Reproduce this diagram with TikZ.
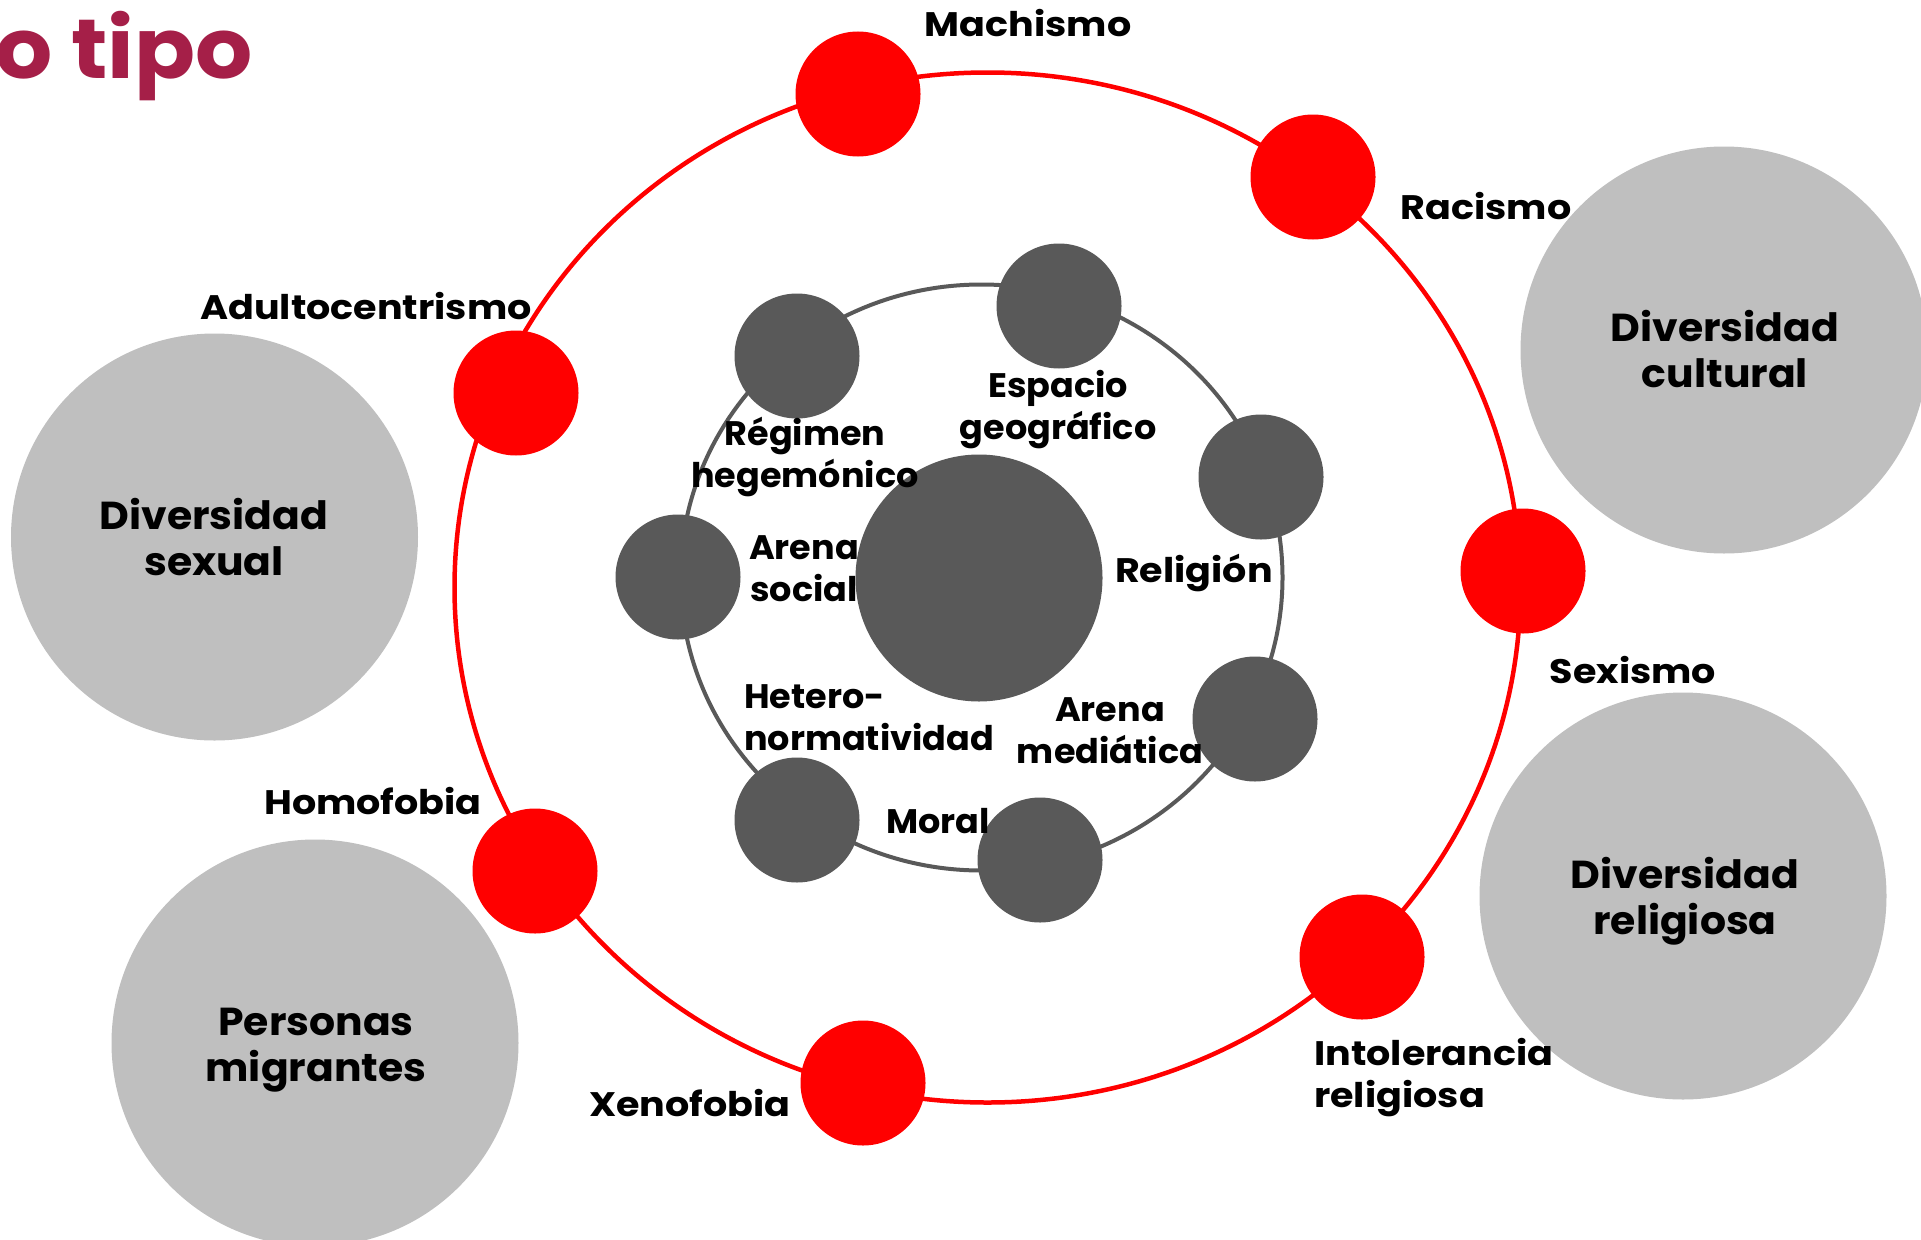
\documentclass[tikz,border=0pt]{standalone}
\usepackage{fontspec}
\setmainfont{Poppins}
\newfontfamily\labfont{Poppins}[FakeStretch=1.12]
\newfontfamily\innfont{Poppins}[FakeStretch=1.03]
\newfontfamily\bigfont{Poppins}[FakeStretch=1.05]
\newfontfamily\titfont{Poppins}[FakeStretch=1.07]
\definecolor{ballred}{HTML}{FF0000}
\definecolor{darkgr}{HTML}{595959}
\definecolor{lightgr}{HTML}{BFBFBF}
\definecolor{titlered}{HTML}{A51F48}
\begin{document}
\begin{tikzpicture}[x=1pt,y=-1pt,
  redball/.style={circle,fill=ballred,draw=none,inner sep=0pt,minimum size=125pt},
  grayball/.style={circle,fill=darkgr,draw=none,inner sep=0pt,minimum size=125pt},
  bigball/.style={circle,fill=lightgr,draw=none,inner sep=0pt,minimum size=407pt},
  lab/.style={font=\labfont\bfseries\fontsize{34}{42}\selectfont,align=center,inner sep=0pt,anchor=base,text=black},
  innlab/.style={lab,font=\innfont\bfseries\fontsize{34}{42}\selectfont},
  biglab/.style={font=\bigfont\bfseries\fontsize{39}{46}\selectfont,align=center,inner sep=0pt,anchor=base,text=black},
  titletext/.style={font=\titfont\bfseries\fontsize{84}{90}\selectfont,text=titlered,inner sep=0pt,anchor=base east},
  redring/.style={draw=ballred,line width=4.5pt},
  grayring/.style={draw=darkgr,line width=4pt}]
\useasboundingbox (0,0) rectangle (1921,1239);
\clip (0,0) rectangle (1921,1239);

% big light grey circles
\node[bigball] (sexual) at (214.5,537) {};
\node[bigball] (cultural) at (1724,350) {};
\node[bigball] (religiosa) at (1683,896) {};
\node[bigball] (migrantes) at (315,1043) {};

% rings
\draw[redring] (987.5,587.5) ellipse [x radius=533pt, y radius=515pt];
\draw[grayring] (981.5,577.5) ellipse [x radius=301pt, y radius=293pt];

% red circles
\node[redball] (machismo) at (858,94) {};
\node[redball] (racismo) at (1313,177) {};
\node[redball] (sexismo) at (1523,571) {};
\node[redball] (intolerancia) at (1362,957) {};
\node[redball] (xenofobia) at (863,1083) {};
\node[redball] (homofobia) at (535,871) {};
\node[redball] (adulto) at (516,393) {};

% dark grey circles
\node[grayball] (regimen) at (797,356) {};
\node[grayball] (espacio) at (1059,306) {};
\node[grayball] (religion) at (1261,477) {};
\node[grayball] (mediatica) at (1255,719) {};
\node[grayball] (moral) at (1040,860) {};
\node[grayball] (hetero) at (797,820) {};
\node[grayball] (social) at (678,577) {};
\node[grayball,minimum size=247pt] (centro) at (979,578) {};

% title
\node[titletext] (title) at (253,78) {o tipo};

% outer labels (anchor base = baseline of last line)
\node[lab] (l-machismo) at (1028,37) {Machismo};
\node[lab] (l-racismo) at (1486,219) {Racismo};
\node[lab] (l-sexismo) at (1633,683) {Sexismo};
\node[lab,align=left,anchor=base west] (l-intol) at (1314,1107) {Intolerancia\\religiosa};
\node[lab] (l-xeno) at (690,1116) {Xenofobia};
\node[lab] (l-homo) at (373,814) {Homofobia};
\node[lab] (l-adulto) at (366,319) {Adultocentrismo};

% inner labels
\node[innlab] (l-regimen) at (805,487) {Régimen\\hegemónico};
\node[innlab] (l-espacio) at (1058,439) {Espacio\\geográfico};
\node[innlab] (l-social) at (804,601) {Arena\\social};
\node[lab] (l-religion) at (1194,582) {Religión};
\node[innlab,align=left,anchor=base west] (l-hetero) at (744,750) {Hetero-\\normatividad};
\node[innlab] (l-mediatica) at (1110,763) {Arena\\mediática};
\node[innlab,anchor=base west] (l-moral) at (886,833) {Moral};

% big labels
\node[biglab] (l-sexual) at (214,575) {Diversidad\\sexual};
\node[biglab] (l-cultural) at (1725,387) {Diversidad\\cultural};
\node[biglab] (l-religiosa) at (1685,934) {Diversidad\\religiosa};
\node[biglab] (l-migrantes) at (316,1081) {Personas\\migrantes};
\end{tikzpicture}
\end{document}
